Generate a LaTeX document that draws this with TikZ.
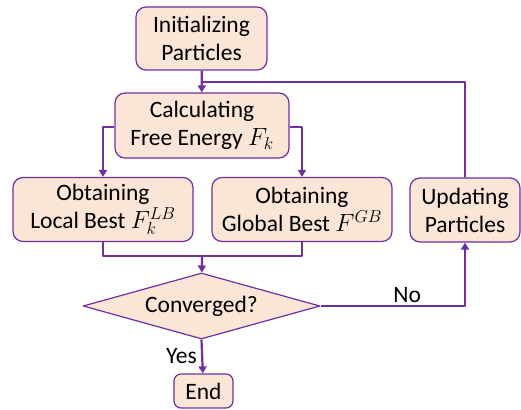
\documentclass[tikz,border=0pt]{standalone}
\usepackage{fontspec}
\setmainfont{Carlito}
\usetikzlibrary{shapes.geometric,arrows.meta}
\definecolor{boxfill}{HTML}{FBE5D6}
\definecolor{boxline}{HTML}{7030A0}
\begin{document}
\begin{tikzpicture}[x=1pt, y=-1pt, font=\fontsize{23.5}{28}\selectfont, line join=round,
  box/.style={draw=boxline, fill=boxfill, line width=1.2pt, rounded corners=10pt, align=center, inner sep=0pt},
  flow/.style={draw=boxline, line width=2.2pt, -{Triangle[width=8pt,length=7pt]}}]
% cadre de l'image
\useasboundingbox (0,0) rectangle (521,409);
% Les boites
\node[box, minimum width=131pt, minimum height=63pt] (init) at (201.5,38.5) {Initializing\\Particles};
\node[box, minimum width=174pt, minimum height=65pt] (calc) at (202,125.5) {Calculating\\Free Energy $F_k$};
\node[box, minimum width=180pt, minimum height=64pt] (local) at (103,209.5) {Obtaining\\Local Best $F_k^{LB}$};
\node[box, minimum width=180pt, minimum height=64pt] (global) at (302,209.5) {Obtaining\\Global Best $F^{GB}$};
\node[box, minimum width=110pt, minimum height=64pt] (update) at (465,210) {Updating\\Particles};
% Le losange
\node[draw=boxline, fill=boxfill, line width=1.2pt, diamond, aspect=3.6, minimum width=237pt, minimum height=66pt, inner sep=0pt] (conv) at (201.5,306) {Converged?};
\node[box, rounded corners=7pt, minimum width=59pt, minimum height=34pt] (fin) at (203.5,391) {End};
% Les fleches
\coordinate (join) at (202,82);
\draw[flow] (init) -- (calc);
\draw[boxline, line width=1.8pt] (update.north) |- (join);
\draw[flow] (calc.west |- 0,127) -| (local);
\draw[flow] (calc.east |- 0,127) -| (global);
\coordinate (merge) at (202,256);
\draw[boxline, line width=2.2pt] (local.south) |- (merge) -| (global.south);
\draw[flow] (merge) -- (conv);
\draw[flow] (conv.east) -| node[pos=0.3, above, yshift=-1pt] {No} (update.south);
\draw[flow] (conv.south) -- node[left, xshift=-1pt] {Yes} (fin);
\end{tikzpicture}
\end{document}
